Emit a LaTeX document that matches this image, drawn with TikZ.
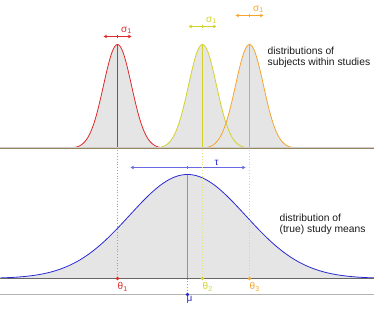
\documentclass[tikz,border=0pt]{standalone}
\usepackage{fontspec}
\setmainfont{Liberation Sans}
\usetikzlibrary{arrows.meta}
\definecolor{studyred}{RGB}{225,40,40}
\definecolor{studyyellow}{RGB}{212,210,40}
\definecolor{studyorange}{RGB}{245,165,45}
\definecolor{meanblue}{RGB}{40,40,215}
\definecolor{baseolive}{RGB}{150,135,95}
\begin{document}
\begin{tikzpicture}[x=1pt,y=-1pt,
    declare function={bell(\t)=exp(-0.5*\t*\t);},
    sdarrow/.style={{Stealth[length=3.5pt,width=3.5pt]}-{Stealth[length=3.5pt,width=3.5pt]}, line width=0.8pt},
    lbl/.style={font=\fontsize{10}{11}\selectfont, inner sep=0pt},
    desc/.style={font=\fontsize{10.3}{11}\selectfont, inner sep=0pt, text=gray!20!black, anchor=west, align=left}]
    \useasboundingbox (-0.5,-0.5) rectangle (373.5,311.5);

    % shaded areas under the curves
    \fill[gray!20] plot[domain=0:374, samples=150] (\x, {278-104*bell((\x-187)/58)}) -- cycle;
    \foreach \m in {117,202,249} {
            \fill[gray!20] plot[domain=\m-60:\m+60, samples=80] (\x, {148-104*bell((\x-\m)/14)}) -- cycle;
        }

    % mean of the study means
    \draw[meanblue!55, line width=1.5pt] (187,174) -- (187,278);
    \draw[meanblue!50, dotted, line width=0.8pt] (187,278) -- (187,294);
    \draw[meanblue, line width=0.8pt] plot[domain=0:374, samples=150] (\x, {278-104*bell((\x-187)/58)});
    \coordinate (taul) at (130,167);
    \coordinate (taur) at (245,167);
    \draw[sdarrow, meanblue!70] (taul) -- (taur);
    \draw[meanblue!70, line width=0.8pt] (187,165.5) -- (187,168.5);
    \node[lbl, meanblue] (taulbl) at (216,162) {τ};

    % the three studies
    \foreach \m/\col/\ay/\i in {117/studyred/36/1, 202/studyyellow/26/2, 249/studyorange/15/3} {
            \draw[color=\col!60, dotted, line width=0.8pt] (\m,150) -- (\m,278);
            \draw[color=\col, line width=0.8pt] (\m,44) -- (\m,148);
            \draw[color=\col, line width=0.8pt] plot[domain=\m-60:\m+60, samples=80] (\x, {148-104*bell((\x-\m)/14)});
            \coordinate (sl\i) at (\m-14,\ay);
            \coordinate (sr\i) at (\m+14,\ay);
            \draw[sdarrow, color=\col] (sl\i) -- (sr\i);
            \draw[color=\col, line width=0.8pt] (\m,\ay-1.5) -- (\m,\ay+1.5);
            \node[lbl, text=\col] (sig\i) at (\m+9,\ay-6) {σ\textsubscript{1}};
        }

    % base lines
    \draw[gray!40, line width=0.6pt] (0,146.8) -- (374,146.8);
    \draw[baseolive, line width=1pt] (0,148) -- (374,148);
    \draw[gray!80!black, line width=0.8pt] (0,278) -- (374,278);
    \draw[gray!60, line width=1.2pt] (0,294) -- (374,294);

    % study means and overall mean
    \foreach \m/\col/\i in {117/studyred/1, 202/studyyellow/2, 249/studyorange/3} {
            \fill[color=\col] (\m,278) circle (1.8);
            \node[lbl, text=\col, anchor=north west] (theta\i) at (\m,282) {θ\textsubscript{\i}};
        }
    \fill[meanblue] (187,294) circle (1.8);
    \node[lbl, meanblue, anchor=north west] (mulbl) at (186,295.5) {μ};

    % descriptions
    \node[desc] (subjlbl) at (267,57) {distributions of\\subjects within studies};
    \node[desc] (meanslbl) at (279,223.5) {distribution of\\(true) study means};
\end{tikzpicture}
\end{document}
